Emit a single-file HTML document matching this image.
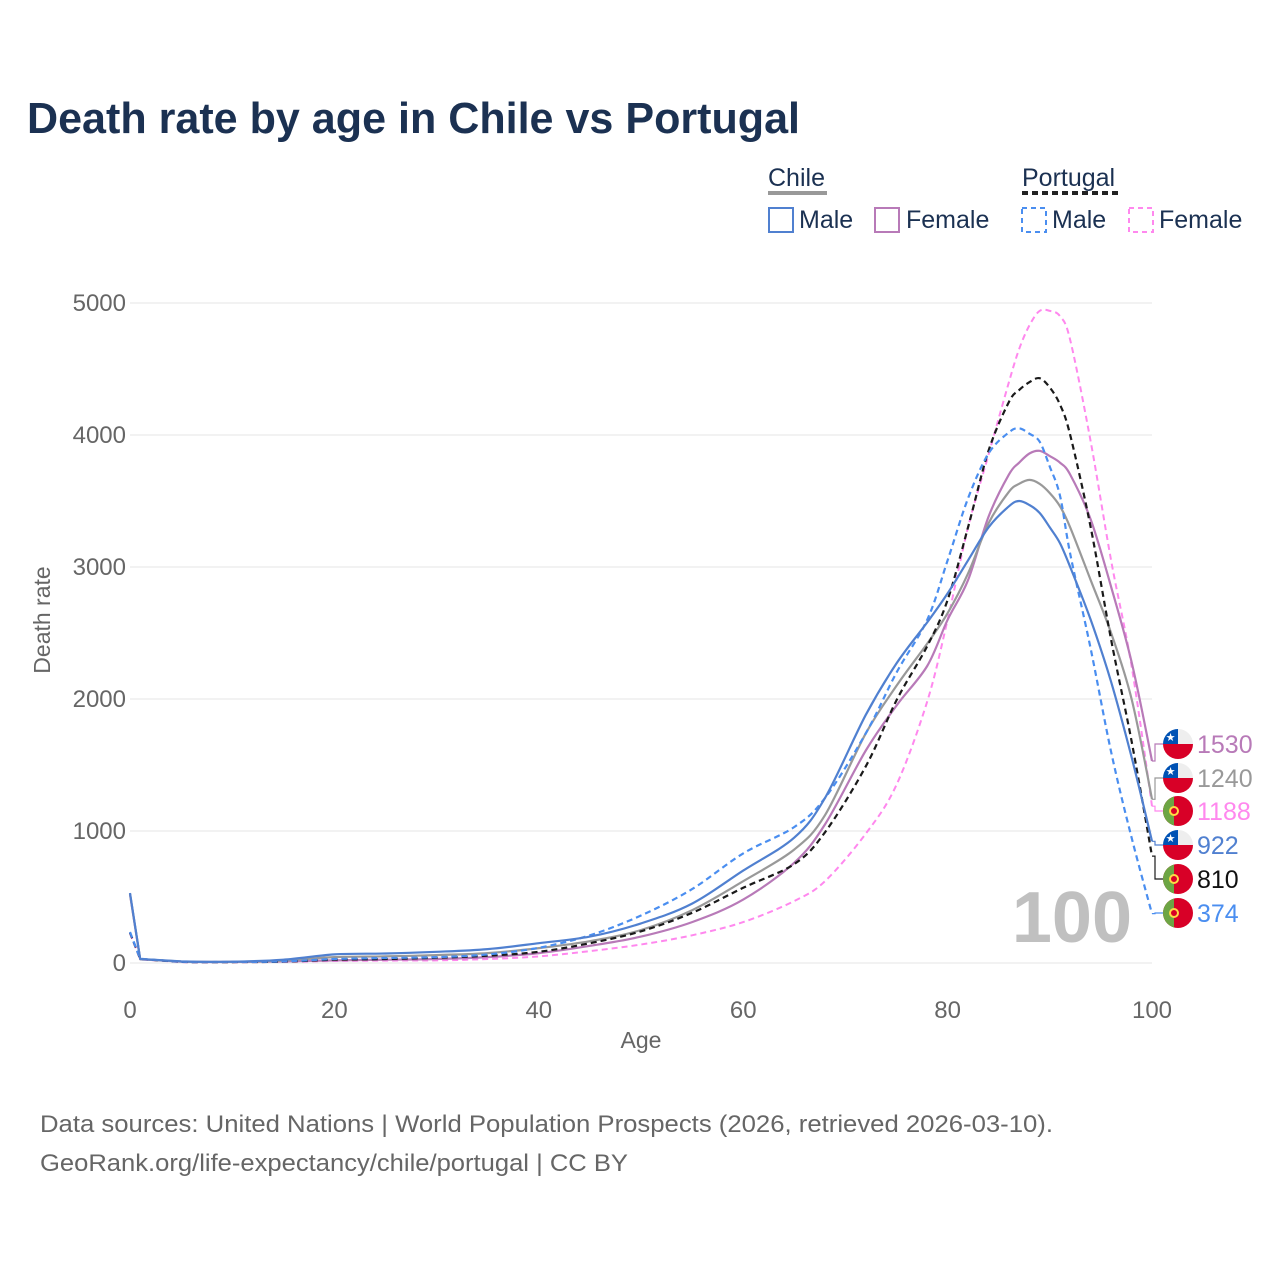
<!DOCTYPE html>
<html><head><meta charset="utf-8">
<style>
html,body{margin:0;padding:0;background:#fff;}
body{width:1280px;height:1280px;position:relative;font-family:"Liberation Sans",sans-serif;}
svg text{font-family:"Liberation Sans",sans-serif;}
</style></head>
<body>
<svg id="chart" width="1280" height="1280" viewBox="0 0 1280 1280" xmlns="http://www.w3.org/2000/svg">
  <text x="27" y="133" font-size="44" font-weight="bold" fill="#1b3152" textLength="773" lengthAdjust="spacingAndGlyphs">Death rate by age in Chile vs Portugal</text>
  <g font-size="25" fill="#1b3152">
    <text x="768" y="186" fill="#1b3152">Chile</text>
    <rect x="768" y="191" width="59" height="4" fill="#999"/>
    <text x="1022" y="186" fill="#1b3152">Portugal</text>
    <line x1="1022" y1="193" x2="1118" y2="193" stroke="#222" stroke-width="4" stroke-dasharray="6,4"/>
    <g><rect x="769" y="208" width="24" height="24" fill="none" stroke="#5080d0" stroke-width="2"/><text x="799" y="228">Male</text></g>
    <g><rect x="875" y="208" width="24" height="24" fill="none" stroke="#b87ab8" stroke-width="2"/><text x="906" y="228">Female</text></g>
    <g><rect x="1022" y="208" width="24" height="24" fill="none" stroke="#4a8ef0" stroke-width="2" stroke-dasharray="5,4"/><text x="1052" y="228">Male</text></g>
    <g><rect x="1129" y="208" width="24" height="24" fill="none" stroke="#ff88ee" stroke-width="2" stroke-dasharray="5,4"/><text x="1159" y="228">Female</text></g>
  </g>
  <g id="grid"></g>
  <g id="yticks" font-size="24" fill="#666" text-anchor="end"></g>
  <g id="xticks" font-size="24" fill="#666" text-anchor="middle"></g>
  <text transform="translate(50,620) rotate(-90)" text-anchor="middle" font-size="23" fill="#666">Death rate</text>
  <text x="641" y="1048" text-anchor="middle" font-size="23" fill="#666">Age</text>
  <text x="1132" y="942" text-anchor="end" font-size="72" font-weight="bold" fill="#c0c0c0">100</text>
  <g id="series"></g>
  <g id="labels"></g>
  <text x="40" y="1132" font-size="24" fill="#666" textLength="1013" lengthAdjust="spacingAndGlyphs">Data sources: United Nations | World Population Prospects (2026, retrieved 2026-03-10).</text>
  <text x="40" y="1171" font-size="24" fill="#666" textLength="588" lengthAdjust="spacingAndGlyphs">GeoRank.org/life-expectancy/chile/portugal | CC BY</text>
</svg>
<script>
const ages = [0,1,5,10,15,20,25,30,35,40,45,50,55,60,65,68,72,75,78,80,82,84,86,87,88,89,90,91,92,94,96,98,100];
const chileMale = [530,30,12,10,25,65,72,85,105,150,200,300,450,700,950,1250,1880,2270,2580,2800,3050,3300,3460,3500,3470,3410,3300,3180,3000,2600,2130,1560,922];
const chileFemale = [520,28,10,8,12,20,25,30,45,75,130,200,310,480,760,1050,1610,1950,2250,2600,2900,3380,3700,3790,3860,3880,3840,3790,3700,3360,2850,2280,1530];
const chileTotal = [525,29,11,9,18,45,50,60,75,113,165,250,400,620,860,1120,1740,2100,2420,2650,2950,3330,3570,3630,3660,3630,3560,3460,3300,2900,2500,2000,1240];
const portugalTotal = [230,30,8,7,10,25,30,40,55,85,150,240,380,570,750,990,1490,1990,2400,2750,3300,3880,4250,4340,4400,4430,4360,4230,4000,3300,2450,1680,810];
const portugalMale = [235,32,9,8,12,30,38,45,65,115,210,360,560,830,1030,1250,1740,2200,2600,3050,3520,3860,4020,4050,4010,3950,3760,3540,3100,2380,1600,950,374];
const portugalFemale = [225,28,7,6,8,15,18,20,30,50,90,140,210,310,470,620,980,1350,1980,2600,3300,3850,4400,4650,4830,4940,4940,4900,4720,3950,3050,2250,1188];
const yTickValues = [0,1000,2000,3000,4000,5000];
const xTickValues = [0,20,40,60,80,100];

const NS = "http://www.w3.org/2000/svg";
const X0 = 130, X1 = 1152, Y0 = 963, Y1 = 303;
function xScale(a){ return X0 + (a/100)*(X1-X0); }
function yScale(v){ return Y0 - (v/5000)*(Y0-Y1); }
function mk(tag, attrs, parent){ const e=document.createElementNS(NS,tag); for(const k in attrs) e.setAttribute(k,attrs[k]); parent.appendChild(e); return e; }
function smoothPath(pts){
  let d='M'+pts[0][0].toFixed(1)+','+pts[0][1].toFixed(1);
  for(let i=0;i<pts.length-1;i++){
    const p0=pts[Math.max(0,i-1)], p1=pts[i], p2=pts[i+1], p3=pts[Math.min(pts.length-1,i+2)];
    if(i<2){ d+=` L${p2[0].toFixed(1)},${p2[1].toFixed(1)}`; continue; }
    const t=1/6, t2=(i+1===pts.length-1)?0:1/6;
    const c1=[p1[0]+(p2[0]-p0[0])*t, p1[1]+(p2[1]-p0[1])*t];
    const c2=[p2[0]-(p3[0]-p1[0])*t2, p2[1]-(p3[1]-p1[1])*t2];
    d+=` C${c1[0].toFixed(1)},${c1[1].toFixed(1)} ${c2[0].toFixed(1)},${c2[1].toFixed(1)} ${p2[0].toFixed(1)},${p2[1].toFixed(1)}`;
  }
  return d;
}

const grid=document.getElementById('grid'), yt=document.getElementById('yticks'), xt=document.getElementById('xticks');
yTickValues.forEach(v=>{
  const l=mk('line',{x1:X0,x2:X1,y1:yScale(v),y2:yScale(v),stroke:'#e6e6e6','stroke-width':1},grid);
  
  
  const t=mk('text',{x:126,y:yScale(v)+8},yt); t.textContent=v;
  
  
});
xTickValues.forEach(v=>{
  const t=mk('text',{x:xScale(v),y:1018},xt); t.textContent=v;
  
  
});

const seriesDefs = [
  {name:'portugal-female', vals:portugalFemale, color:'#ff88ee', dash:'6,4', w:2, flag:'pt', ly:811},
  {name:'chile-female', vals:chileFemale, color:'#b87ab8', dash:'', w:2.2, flag:'cl', ly:744},
  {name:'chile-total', vals:chileTotal, color:'#999999', dash:'', w:2.2, flag:'cl', ly:778},
  {name:'portugal-total', vals:portugalTotal, color:'#1a1a1a', dash:'6,4', w:2.2, flag:'pt', ly:879},
  {name:'portugal-male', vals:portugalMale, color:'#4a8ef0', dash:'6,4', w:2.2, flag:'pt', ly:913},
  {name:'chile-male', vals:chileMale, color:'#5080d0', dash:'', w:2.2, flag:'cl', ly:845}
];
const sg=document.getElementById('series'), lg=document.getElementById('labels');
seriesDefs.forEach(s=>{
  const pts=ages.map((a,i)=>[xScale(a), yScale(s.vals[i])]);
  const p=mk('path',{d:smoothPath(pts),fill:'none',stroke:s.color,'stroke-width':s.w,'stroke-dasharray':s.dash,'stroke-linejoin':'round'},sg);
  
  
  const endV=s.vals[s.vals.length-1], ey=yScale(endV);
  const c=mk('path',{d:`M${X1},${ey.toFixed(1)} L1155,${ey.toFixed(1)} L1155,${s.ly} L1163,${s.ly}`,fill:'none',stroke:s.color,'stroke-width':1.2},lg);
  
  
  const g=mk('g',{},lg);
  
  
  const cx=1178, cy=s.ly, r=15;
  const cid='clip-'+s.name;
  const cp=mk('clipPath',{id:cid},g); mk('circle',{cx:cx,cy:cy,r:r},cp);
  const inner=mk('g',{'clip-path':`url(#${cid})`},g);
  if(s.flag==='cl'){
    mk('rect',{x:cx-r,y:cy-r,width:2*r,height:2*r,fill:'#eeeeee'},inner);
    mk('rect',{x:cx-r,y:cy,width:2*r,height:r,fill:'#d80027'},inner);
    mk('rect',{x:cx-r,y:cy-r,width:r,height:r,fill:'#0052b4'},inner);
    const st=mk('text',{x:cx-r/2,y:cy-3,'font-size':11,fill:'#fff','text-anchor':'middle'},inner); st.textContent='★';
  } else {
    mk('rect',{x:cx-r,y:cy-r,width:2*r,height:2*r,fill:'#d80027'},inner);
    mk('rect',{x:cx-r,y:cy-r,width:11,height:2*r,fill:'#6da544'},inner);
    mk('circle',{cx:cx-4,cy:cy,r:4,fill:'#d80027',stroke:'#ffda44','stroke-width':2},inner);
  }
  const t=mk('text',{x:1197,y:s.ly+9,'font-size':25,fill:s.color==='#1a1a1a'?'#111':s.color},lg);
  t.textContent=endV;
  
  
});
</script>
</body></html>
